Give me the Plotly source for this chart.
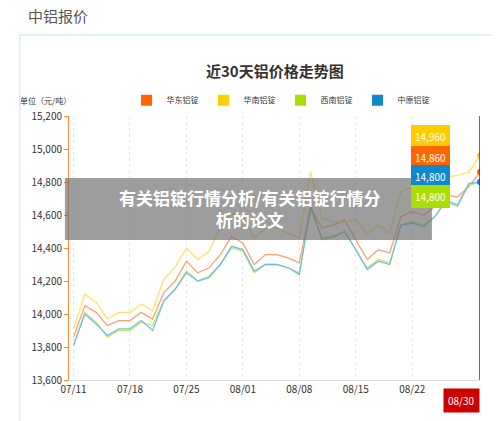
import plotly.graph_objects as go

dates = ['07/11', '07/12', '07/13', '07/14', '07/15', '07/18', '07/19', '07/20', '07/21', '07/22',
         '07/25', '07/26', '07/27', '07/28', '07/29', '08/01', '08/02', '08/03', '08/04', '08/05',
         '08/08', '08/09', '08/10', '08/11', '08/12', '08/15', '08/16', '08/17', '08/18', '08/19',
         '08/22', '08/23', '08/24', '08/25', '08/26', '08/29', '08/30']
tick_labels = ['07/11', '07/18', '07/25', '08/01', '08/08', '08/15', '08/22']

huadong = [13860, 14050, 14010, 13930, 13960, 13960, 14010, 13970, 14130, 14200,
           14320, 14250, 14280, 14360, 14470, 14430, 14300, 14360, 14360, 14340,
           14310, 14650, 14520, 14540, 14570, 14450, 14330, 14390, 14370, 14590,
           14620, 14600, 14650, 14720, 14710, 14770, 14860]
huanan = [13910, 14120, 14070, 13970, 14010, 14010, 14060, 14020, 14210, 14285,
          14400, 14330, 14380, 14530, 14610, 14590, 14460, 14520, 14520, 14490,
          14460, 14860, 14580, 14560, 14560, 14570, 14485, 14540, 14490, 14740,
          14770, 14750, 14780, 14830, 14840, 14860, 14960]
xinan = [13810, 14010, 13950, 13860, 13900, 13900, 13950, 13930, 14080, 14150,
         14260, 14200, 14230, 14300, 14400, 14380, 14250, 14300, 14300, 14280,
         14250, 14640, 14450, 14460, 14500, 14390, 14280, 14330, 14310, 14540,
         14560, 14540, 14590, 14680, 14650, 14780, 14800]
zhongyuan = [13810, 14000, 13940, 13870, 13910, 13910, 13960, 13900, 14080, 14150,
             14250, 14200, 14220, 14300, 14410, 14390, 14260, 14300, 14300, 14280,
             14240, 14650, 14460, 14470, 14500, 14390, 14270, 14320, 14300, 14540,
             14550, 14530, 14590, 14690, 14660, 14790, 14800]

series = [('华东铝锭', huadong, '#ff6600', '#ffa070'),
          ('华南铝锭', huanan, '#ffcc00', '#ffe066'),
          ('西南铝锭', xinan, '#aadd00', '#c8e860'),
          ('中原铝锭', zhongyuan, '#1188cc', '#70bce6')]

fig = go.Figure()
for name, vals, col, light in series:
    fig.add_trace(go.Scatter(x=dates, y=vals, name=name, mode='lines', showlegend=False,
                             line=dict(color=light, width=1.3)))
    fig.add_trace(go.Scatter(x=[dates[-1]], y=[vals[-1]], mode='markers', showlegend=False,
                             marker=dict(color=col, size=6)))
    # legend entry with a square swatch
    fig.add_trace(go.Scatter(x=[None], y=[None], name=name, mode='markers',
                             marker=dict(color=col, symbol='square', size=11)))

fig.add_vline(x=len(dates) - 1, line_color='#cc0000', line_width=1.5)

# value badges on the right
badges = [(huanan, '#ffcc00', 0.966), (huadong, '#ff6600', 0.886), (zhongyuan, '#1188cc', 0.814),
          (xinan, '#aadd00', 0.739)]
for vals, col, yp in badges:
    fig.add_annotation(x=0.927, y=yp, xref='paper', yref='paper', text=f'{vals[-1]:,}',
                       showarrow=False, bgcolor=col, bordercolor=col, borderpad=3,
                       font=dict(color='white', size=10))
fig.add_annotation(x=1.0, y=-0.03, xref='paper', yref='paper', text='08/30', showarrow=False,
                   yanchor='top', bgcolor='#cc0000', borderpad=4, font=dict(color='white', size=10))

fig.add_annotation(x=-0.125, y=1.06, xref='paper', yref='paper', text='单位（元/吨）', showarrow=False,
                   xanchor='left', yanchor='middle', font=dict(size=8, color='#333'))
fig.add_annotation(x=0.5, y=1.174, xref='paper', yref='paper', text='<b>近30天铝价格走势图</b>',
                   showarrow=False, yanchor='middle', font=dict(size=15, color='#333'))
fig.add_annotation(x=-0.105, y=1.38, xref='paper', yref='paper', text='中铝报价', showarrow=False,
                   xanchor='left', yanchor='middle', font=dict(size=15, color='#555'))

# panel border and overlay banner
fig.add_shape(type='rect', xref='paper', yref='paper', x0=-0.12, x1=1.1, y0=-0.2, y1=1.307,
              line=dict(color='#d8ecf8', width=1.5), layer='below')
fig.add_shape(type='rect', xref='paper', yref='paper', x0=-0.01, x1=0.883, y0=0.53, y1=0.765,
              fillcolor='rgba(110,110,110,0.68)', line_width=0)
fig.add_annotation(x=0.44, y=0.648, xref='paper', yref='paper',
                   text='<b>有关铝锭行情分析/有关铝锭行情分<br>析的论文</b>', showarrow=False,
                   font=dict(size=17, color='white'))

fig.update_layout(
    width=500, height=421, margin=dict(l=61, r=28, t=108, b=49),
    plot_bgcolor='white', paper_bgcolor='white',
    font=dict(family='Noto Sans CJK SC', color='#333'),
    legend=dict(orientation='h', x=0.14, y=1.06, xanchor='left', yanchor='middle',
                font=dict(size=8), itemwidth=30, tracegroupgap=0),
    xaxis=dict(type='category', range=[-0.4, len(dates) - 1], tickvals=tick_labels,
               showgrid=True, gridcolor='#e6e6e6', griddash='dot', tickfont=dict(size=10),
               showline=True, linecolor='#ddd'),
    yaxis=dict(range=[13600, 15200], dtick=200, tickformat=',', showgrid=False,
               showline=True, linecolor='#ff8833', ticks='outside', tickcolor='#ff8833',
               ticklen=4, tickfont=dict(size=10)),
)

fig.write_html('out.html')
